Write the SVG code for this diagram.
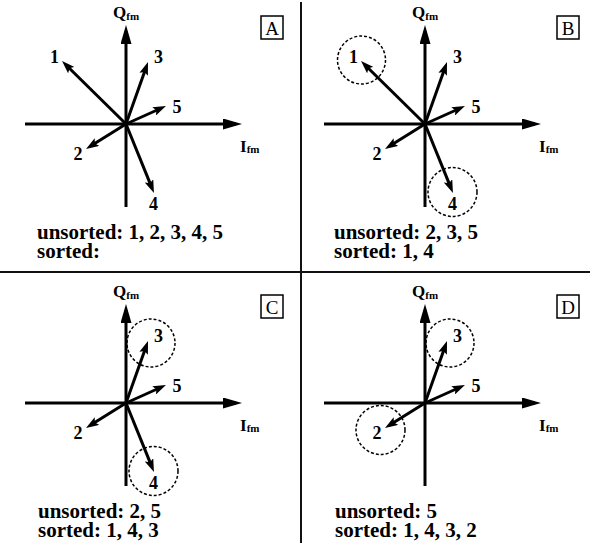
<svg xmlns="http://www.w3.org/2000/svg" width="596" height="550" viewBox="0 0 596 550">
<style>
  .axis { stroke:#000; stroke-width:3; fill:none; marker-end:url(#axhead); }
  .vec { stroke:#000; stroke-width:3; fill:none; marker-end:url(#vhead); }
  .div { stroke:#111; stroke-width:2; fill:none; }
  .sel { stroke:#000; stroke-width:1.5; stroke-dasharray:3 2; fill:none; }
  .box { stroke:#000; stroke-width:1.5; fill:#fff; }
  .boxt { font-family:"Liberation Serif","Times New Roman",serif; font-size:19px; text-anchor:middle; fill:#000; }
  .num { font-family:"Liberation Serif","Times New Roman",serif; font-size:18px; font-weight:bold; text-anchor:middle; fill:#000; }
  .ax { font-family:"Liberation Serif","Times New Roman",serif; font-size:17px; font-weight:bold; fill:#000; }
  .sub { font-size:11px; }
  .lst { font-family:"Liberation Serif","Times New Roman",serif; font-size:21px; font-weight:bold; fill:#000; }
</style>
<defs>
  <marker id="axhead" viewBox="0 0 19 11" refX="13" refY="5.5" markerWidth="19" markerHeight="11" markerUnits="userSpaceOnUse" orient="auto">
    <path d="M0,0 L19,5.5 L0,11 z" fill="#000"/>
  </marker>
  <marker id="vhead" viewBox="0 0 13 9" refX="7" refY="4.5" markerWidth="13" markerHeight="9" markerUnits="userSpaceOnUse" orient="auto">
    <path d="M0,0 L13,4.5 L0,9 L2.5,4.5 z" fill="#000"/>
  </marker>
  <g id="axes">
    <line class="axis" x1="-101" y1="0" x2="110" y2="0"/>
    <line class="axis" x1="0" y1="83" x2="0" y2="-93"/>
    <text class="ax" x="-13" y="-106">Q<tspan class="sub" dy="2">fm</tspan></text>
    <text class="ax" x="114" y="28">I<tspan class="sub" dy="1">fm</tspan></text>
  </g>
</defs>

<g id="dividers">
  <line class="div" x1="301" y1="2" x2="301" y2="543"/>
  <line class="div" x1="0" y1="272" x2="590" y2="272"/>
</g>

<g id="panelA" transform="translate(126,124)">
  <use href="#axes"/>
  <g id="vectorsA">
    <line class="vec" x1="0" y1="0" x2="-59.7" y2="-58.8"/>
    <line class="vec" x1="0" y1="0" x2="20" y2="-56.3"/>
    <line class="vec" x1="0" y1="0" x2="34.5" y2="-15.5"/>
    <line class="vec" x1="0" y1="0" x2="-34.9" y2="21.8"/>
    <line class="vec" x1="0" y1="0" x2="25.7" y2="63.4"/>
  </g>
  <text class="num" x="-71.5" y="-61">1</text>
  <text class="num" x="32.5" y="-61">3</text>
  <text class="num" x="51" y="-11">5</text>
  <text class="num" x="-48" y="36">2</text>
  <text class="num" x="27.5" y="86">4</text>
</g>
<g id="labelA">
  <rect class="box" x="261" y="16" width="22" height="23"/>
  <text class="boxt" x="272" y="34.5">A</text>
</g>
<g id="listA">
  <text class="lst" x="37" y="239">unsorted: 1, 2, 3, 4, 5</text>
  <text class="lst" x="37" y="258">sorted:</text>
</g>

<g id="panelB" transform="translate(425,124)">
  <use href="#axes"/>
  <g id="vectorsB">
    <line class="vec" x1="0" y1="0" x2="-59.7" y2="-58.8"/>
    <line class="vec" x1="0" y1="0" x2="20" y2="-56.3"/>
    <line class="vec" x1="0" y1="0" x2="34.5" y2="-15.5"/>
    <line class="vec" x1="0" y1="0" x2="-34.9" y2="21.8"/>
    <line class="vec" x1="0" y1="0" x2="25.7" y2="63.4"/>
  </g>
  <text class="num" x="-71.5" y="-61">1</text>
  <text class="num" x="32.5" y="-61">3</text>
  <text class="num" x="51" y="-11">5</text>
  <text class="num" x="-48" y="36">2</text>
  <text class="num" x="27.5" y="86">4</text>
  <circle class="sel" cx="-63.5" cy="-64" r="24"/>
  <circle class="sel" cx="27.5" cy="68" r="24.5"/>
</g>
<g id="labelB">
  <rect class="box" x="557" y="16" width="22" height="23"/>
  <text class="boxt" x="568" y="34.5">B</text>
</g>
<g id="listB">
  <text class="lst" x="334" y="239">unsorted: 2, 3, 5</text>
  <text class="lst" x="334" y="258">sorted: 1, 4</text>
</g>

<g id="panelC" transform="translate(126,403)">
  <use href="#axes"/>
  <g id="vectorsC">
    <line class="vec" x1="0" y1="0" x2="20" y2="-56.3"/>
    <line class="vec" x1="0" y1="0" x2="34.5" y2="-15.5"/>
    <line class="vec" x1="0" y1="0" x2="-34.9" y2="21.8"/>
    <line class="vec" x1="0" y1="0" x2="25.7" y2="63.4"/>
  </g>
  <text class="num" x="32.5" y="-61">3</text>
  <text class="num" x="51" y="-11">5</text>
  <text class="num" x="-48" y="36">2</text>
  <text class="num" x="27.5" y="86">4</text>
  <circle class="sel" cx="25" cy="-60" r="24"/>
  <circle class="sel" cx="27.5" cy="68" r="24.5"/>
</g>
<g id="labelC">
  <rect class="box" x="261" y="295" width="22" height="23"/>
  <text class="boxt" x="272" y="313.5">C</text>
</g>
<g id="listC">
  <text class="lst" x="38" y="518">unsorted: 2, 5</text>
  <text class="lst" x="38" y="537">sorted: 1, 4, 3</text>
</g>

<g id="panelD" transform="translate(425,403)">
  <use href="#axes"/>
  <g id="vectorsD">
    <line class="vec" x1="0" y1="0" x2="20" y2="-56.3"/>
    <line class="vec" x1="0" y1="0" x2="34.5" y2="-15.5"/>
    <line class="vec" x1="0" y1="0" x2="-34.9" y2="21.8"/>
  </g>
  <text class="num" x="32.5" y="-61">3</text>
  <text class="num" x="51" y="-11">5</text>
  <text class="num" x="-48" y="36">2</text>
  <circle class="sel" cx="25" cy="-60" r="24"/>
  <circle class="sel" cx="-44.5" cy="27" r="24.5"/>
</g>
<g id="labelD">
  <rect class="box" x="557" y="295" width="22" height="23"/>
  <text class="boxt" x="568" y="313.5">D</text>
</g>
<g id="listD">
  <text class="lst" x="335" y="518">unsorted: 5</text>
  <text class="lst" x="335" y="537">sorted: 1, 4, 3, 2</text>
</g>
</svg>
